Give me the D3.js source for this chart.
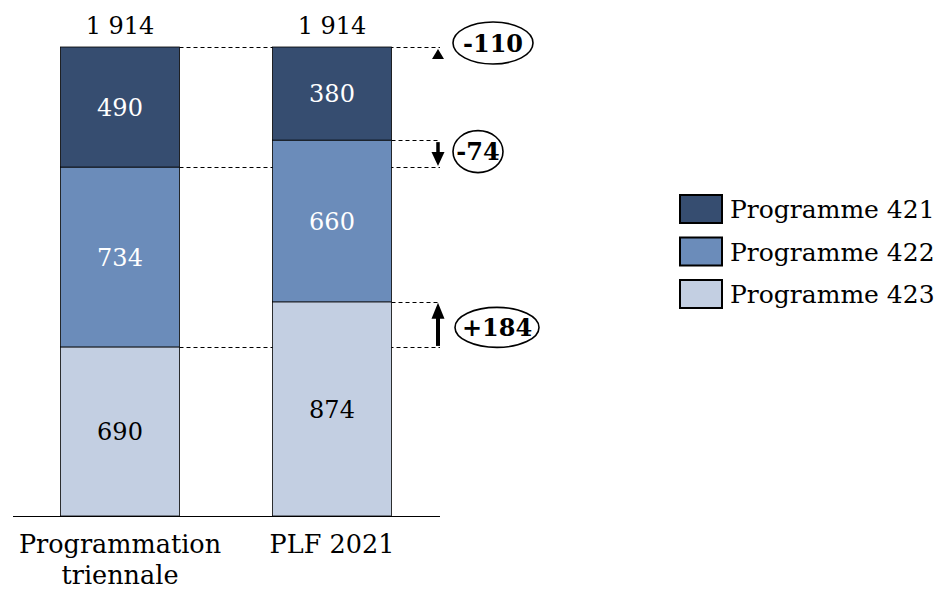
<!DOCTYPE html>
<meta charset="utf-8">
<style>
body { margin: 0; background: #fff; }
text { font-family: "DejaVu Serif", serif; }
</style>
<body>
<script src="https://cdn.jsdelivr.net/npm/d3@7"></script>
<script>

var categories = ["Programmation triennale", "PLF 2021"];
var series = ["Programme 423", "Programme 422", "Programme 421"];
var p423 = [690, 874];
var p422 = [734, 660];
var p421 = [490, 380];
var totals = ["1 914", "1 914"];
var deltas = ["-110", "-74", "+184"];

var colors = {"Programme 421": "#364d70", "Programme 422": "#6b8cba", "Programme 423": "#c3cfe2"};
var textColors = {"Programme 421": "#fff", "Programme 422": "#fff", "Programme 423": "#000"};

var width = 952, height = 613;

var svg = d3.select("body").append("svg")
    .attr("width", width)
    .attr("height", height);

var x = d3.scalePoint().domain(categories).range([120, 332]);
var barW = 119;

var y = d3.scaleLinear().domain([0, 1914]).range([516, 47]);

var data = categories.map(function(c, i) {
  return {cat: c, "Programme 423": p423[i], "Programme 422": p422[i], "Programme 421": p421[i]};
});

var stack = d3.stack().keys(series)(data);

// dashed guide lines
function guide(v, x0) {
  svg.append("line")
      .attr("x1", x0).attr("x2", 440)
      .attr("y1", Math.round(y(v)) + 0.5).attr("y2", Math.round(y(v)) + 0.5)
      .attr("stroke", "#000").attr("stroke-width", 1)
      .attr("stroke-dasharray", "4,3");
}
var right1 = x(categories[0]) + barW / 2, right2 = x(categories[1]) + barW / 2;
guide(p423[0] + p422[0] + p421[0], right1);
guide(p423[0] + p422[0], right1);
guide(p423[0], right1);
guide(p423[1] + p422[1], right2);
guide(p423[1], right2);

var layer = svg.selectAll(".layer")
    .data(stack)
  .enter().append("g")
    .attr("class", "layer");

layer.selectAll("rect")
    .data(function(d) { return d.map(function(e) { e.key = d.key; return e; }); })
  .enter().append("rect")
    .attr("x", function(d) { return x(d.data.cat) - barW / 2; })
    .attr("y", function(d) { return y(d[1]); })
    .attr("width", barW)
    .attr("height", function(d) { return y(d[0]) - y(d[1]); })
    .attr("fill", function(d) { return colors[d.key]; })
    .attr("stroke", "#000")
    .attr("stroke-width", 0.8);

layer.selectAll("text")
    .data(function(d) { return d.map(function(e) { e.key = d.key; return e; }); })
  .enter().append("text")
    .attr("x", function(d) { return x(d.data.cat); })
    .attr("y", function(d) { return (y(d[0]) + y(d[1])) / 2; })
    .attr("dy", "0.36em")
    .attr("text-anchor", "middle")
    .attr("font-size", 24)
    .attr("fill", function(d) { return textColors[d.key]; })
    .text(function(d) { return d.data[d.key]; });

// totals
svg.selectAll(".total")
    .data(categories)
  .enter().append("text")
    .attr("class", "total")
    .attr("x", function(d) { return x(d); })
    .attr("y", 34)
    .attr("text-anchor", "middle")
    .attr("font-size", 24)
    .text(function(d, i) { return totals[i]; });

// axis line
svg.append("line")
    .attr("x1", 13).attr("x2", 440)
    .attr("y1", 516.5).attr("y2", 516.5)
    .attr("stroke", "#000");

// category labels
var lab = svg.selectAll(".cat")
    .data(categories)
  .enter().append("text")
    .attr("class", "cat")
    .attr("x", function(d) { return x(d); })
    .attr("y", 553)
    .attr("text-anchor", "middle")
    .attr("font-size", 25.5);
lab.each(function(d) {
  var words = d == "Programmation triennale" ? ["Programmation", "triennale"] : [d];
  var t = d3.select(this);
  words.forEach(function(w, i) {
    t.append("tspan").attr("x", x(d)).attr("dy", i ? 31 : 0).text(w);
  });
});

// arrows
var ax = 438;
function arrow(from, to, shaftW, hl, hw) {
  var dir = to < from ? -1 : 1;
  var g = svg.append("g");
  if (Math.abs(to - from) > hl) {
    g.append("line")
        .attr("x1", ax).attr("x2", ax)
        .attr("y1", from).attr("y2", to - dir * (hl - 1))
        .attr("stroke", "#000").attr("stroke-width", shaftW);
  }
  g.append("path")
      .attr("d", "M" + (ax - hw) + "," + (to - dir * hl) + "L" + (ax + hw) + "," + (to - dir * hl) + "L" + ax + "," + to + "Z")
      .attr("fill", "#000");
}
arrow(y(1914) + 12, y(1914) + 2, 3, 10, 6);
arrow(y(p423[1] + p422[1]) + 2, y(p423[0] + p422[0]) - 1, 3.5, 14, 6.5);
arrow(y(p423[0]) - 1, y(p423[1]) + 1, 4, 16, 6.5);

// bubbles
var bubbles = [
  {label: deltas[0], cx: 493, cy: y(1914) - 4, rx: 40, ry: 21},
  {label: deltas[1], cx: 478, cy: (y(p423[1] + p422[1]) + y(p423[0] + p422[0])) / 2 - 2, rx: 25, ry: 21},
  {label: deltas[2], cx: 497, cy: (y(p423[0]) + y(p423[1])) / 2 + 3, rx: 42, ry: 20}
];
var b = svg.selectAll(".bubble")
    .data(bubbles)
  .enter().append("g")
    .attr("class", "bubble");
b.append("ellipse")
    .attr("cx", function(d) { return d.cx; })
    .attr("cy", function(d) { return d.cy; })
    .attr("rx", function(d) { return d.rx; })
    .attr("ry", function(d) { return d.ry; })
    .attr("fill", "#fff")
    .attr("stroke", "#000")
    .attr("stroke-width", 1.6);
b.append("text")
    .attr("x", function(d) { return d.cx; })
    .attr("y", function(d) { return d.cy; })
    .attr("dy", "0.36em")
    .attr("text-anchor", "middle")
    .attr("font-size", 24)
    .attr("font-weight", "bold")
    .text(function(d) { return d.label; });

// legend
var legend = svg.selectAll(".legend")
    .data(series.slice().reverse())
  .enter().append("g")
    .attr("class", "legend")
    .attr("transform", function(d, i) { return "translate(680," + (195 + i * 42.5) + ")"; });
legend.append("rect")
    .attr("width", 42)
    .attr("height", 28)
    .attr("fill", function(d) { return colors[d]; })
    .attr("stroke", "#000")
    .attr("stroke-width", 2);
legend.append("text")
    .attr("x", 50)
    .attr("y", 14)
    .attr("dy", "0.36em")
    .attr("font-size", 25)
    .text(function(d) { return d; });

</script>
</body>
